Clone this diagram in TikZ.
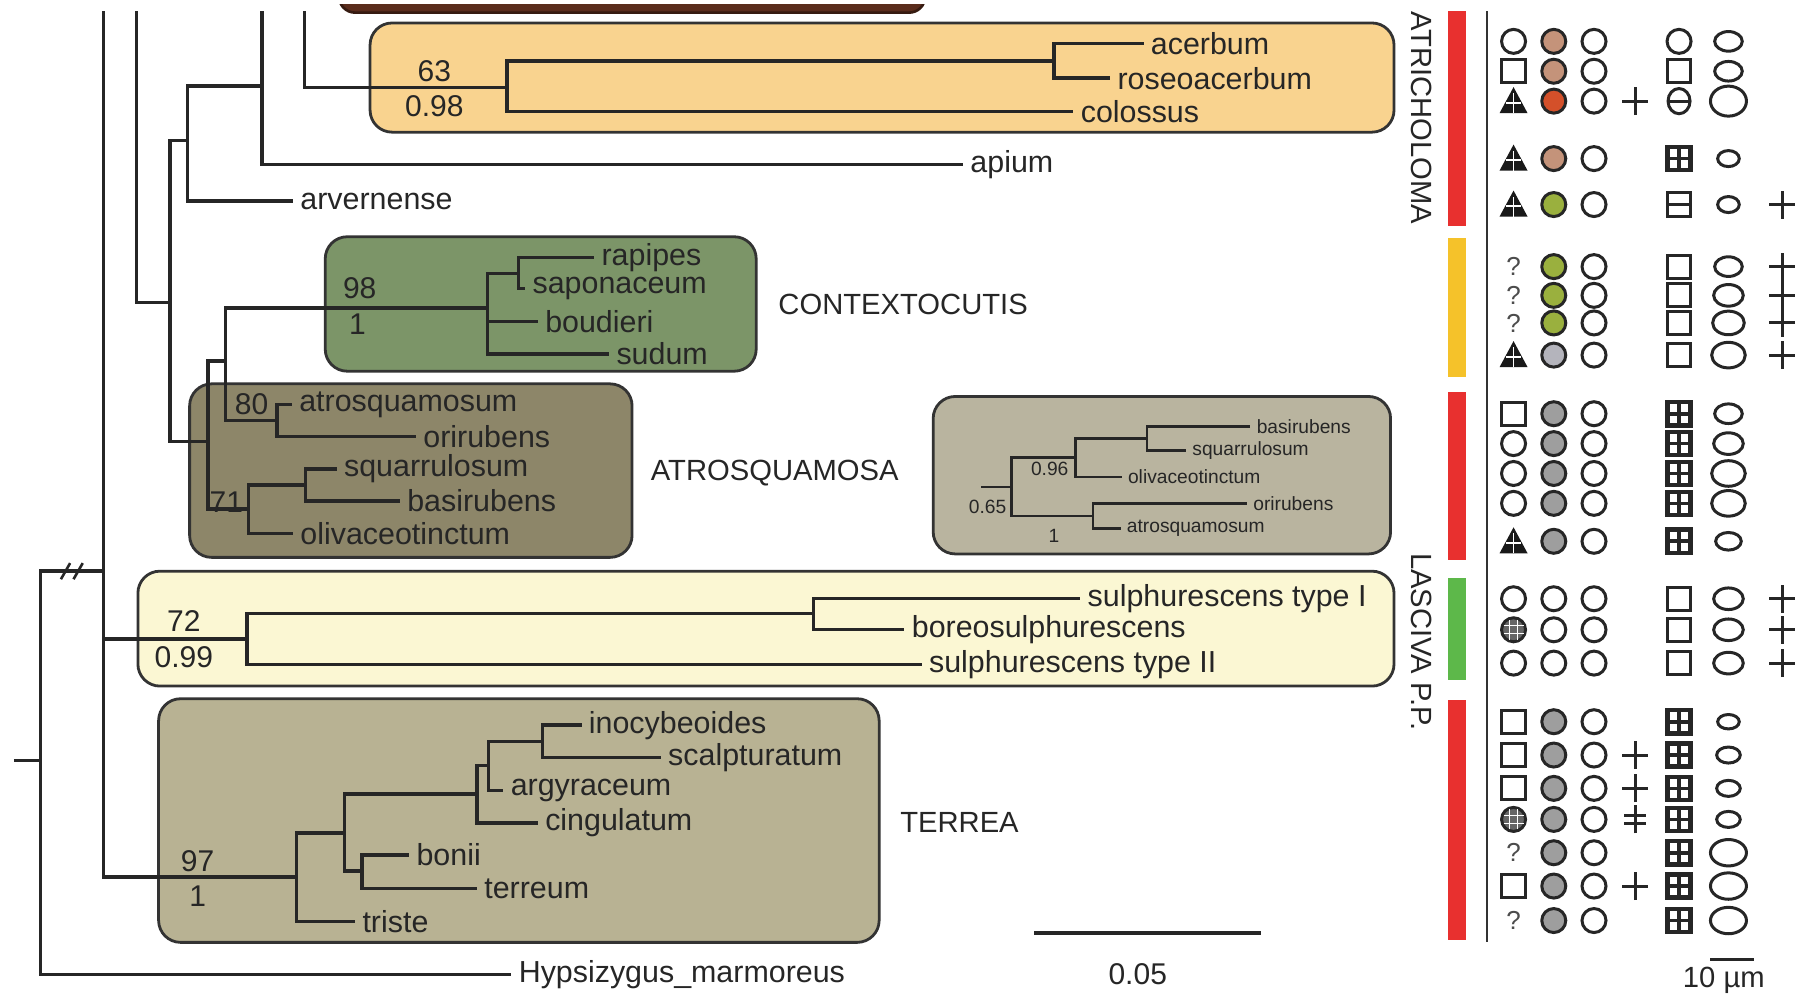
\documentclass[tikz,border=0pt]{standalone}
\usepackage{fontspec}
\setmainfont{Liberation Sans}
\usepackage{tikz}
\definecolor{darkbox}{HTML}{5A2C1C}
\definecolor{boxorange}{HTML}{F9D38F}
\definecolor{boxgreen}{HTML}{7C9568}
\definecolor{boxatro}{HTML}{8D8669}
\definecolor{boxinset}{HTML}{B9B49F}
\definecolor{boxlasc}{HTML}{FBF7D3}
\definecolor{boxterr}{HTML}{B8B293}
\definecolor{barred}{HTML}{E8302F}
\definecolor{baryellow}{HTML}{F5C22A}
\definecolor{bargreen}{HTML}{5DB84A}
\definecolor{dotpink}{HTML}{C4937A}
\definecolor{dotrust}{HTML}{D4502A}
\definecolor{dotolive}{HTML}{9AB03E}
\definecolor{dotlgrey}{HTML}{B4B4BC}
\definecolor{dotgrey}{HTML}{9E9E9E}

\begin{document}
\begin{tikzpicture}[x=0.5745pt,y=-0.5745pt,
  branch/.style={line width=1.7pt,draw=black!85},
  thin branch/.style={line width=1.2pt,draw=black!85},
  clade/.style={draw=black!80,line width=1.4pt,rounded corners=11pt},
  taxon/.style={anchor=west,inner sep=3.5pt,text=black!85,font=\fontsize{15.2}{16}\selectfont},
  small taxon/.style={anchor=west,inner sep=3pt,text=black!85,font=\fontsize{9.6}{10}\selectfont},
  supp/.style={inner sep=0pt,text=black!85,font=\fontsize{15}{16}\selectfont},
  small supp/.style={inner sep=0pt,text=black!85,font=\fontsize{9.6}{10}\selectfont},
  grp/.style={inner sep=0pt,text=black!85,font=\fontsize{14.6}{15}\selectfont},
  qmark/.style={inner sep=0pt,text=black!70,font=\fontsize{13}{14}\selectfont},
  sym/.style={line width=1.5pt,draw=black!85},
  pics/oc/.style={code={\draw[sym,fill=white] (0,0) circle (6pt);}},
  pics/fc/.style={code={\draw[sym,fill=#1] (0,0) circle (6pt);}},
  pics/os/.style={code={\draw[sym] (-5.8pt,-5.8pt) rectangle (5.8pt,5.8pt);}},
  pics/gs/.style={code={\draw[sym,line width=2.2pt] (-5.8pt,-5.8pt) rectangle (5.8pt,5.8pt);
    \draw[sym,line width=1.8pt] (-5.8pt,0) -- (5.8pt,0) (0,-5.8pt) -- (0,5.8pt);}},
  pics/hs/.style={code={\draw[sym] (-5.6pt,-5.8pt) rectangle (5.6pt,5.8pt);
    \draw[sym] (-5.6pt,0) -- (5.6pt,0);}},
  pics/hc/.style={code={\draw[sym] (0,0) ellipse [x radius=5.5pt,y radius=6.3pt];
    \draw[sym] (-5.5pt,0) -- (5.5pt,0);}},
  pics/tr/.style={code={\fill[black!90] (-7pt,-6pt) -- (7pt,-6pt) -- (0,7pt) -- cycle;
    \draw[white,line width=0.8pt] (0,-6pt) -- (0,4pt) (-3.6pt,-0.8pt) -- (3.6pt,-0.8pt);}},
  pics/xc/.style={code={\draw[sym,fill=black!60] (0,0) circle (6pt);
    \draw[white,line width=0.7pt] (-5pt,-2pt) -- (5pt,-2pt) (-5pt,2pt) -- (5pt,2pt) (-2pt,-5pt) -- (-2pt,5pt) (2pt,-5pt) -- (2pt,5pt);}},
  pics/pl/.style={code={\draw[sym] (-6.5pt,0) -- (6.5pt,0) (0,-7pt) -- (0,7pt);}},
  pics/dp/.style={code={\draw[sym] (-5.5pt,2pt) -- (5.5pt,2pt) (-5.5pt,-2pt) -- (5.5pt,-2pt) (0,-7pt) -- (0,7pt);}},
  pics/el/.style 2 args={code={\draw[sym] (0,0) ellipse [x radius=#1,y radius=#2];}}]
\useasboundingbox (0,0) rectangle (1568,866);
\begin{scope}
\clip (0,4) rectangle (1568,866);
\draw[darkbox!60!black,fill=darkbox,line width=1.3pt,rounded corners=8pt] (295,-40) rectangle (805,11);
\end{scope}
\draw[clade,fill=boxorange] (322,20) rectangle (1213,115);
\draw[clade,fill=boxgreen] (283,206) rectangle (658,323);
\draw[clade,fill=boxatro] (165,334) rectangle (550,485);
\draw[clade,fill=boxinset] (812,345) rectangle (1210,482);
\draw[clade,fill=boxlasc] (120,497) rectangle (1213,597);
\draw[clade,fill=boxterr] (138,608) rectangle (765,820);
\coordinate (cutA) at (90,10);
\coordinate (cutB) at (119,10);
\coordinate (cutC) at (228,10);
\coordinate (cutD) at (265,10);
\coordinate (stub) at (12,662);
\coordinate (nRoot) at (35,662);
\coordinate (nCore) at (90,497);
\coordinate (nC) at (148,263);
\coordinate (nD) at (163,122);
\coordinate (nF) at (228,75);
\coordinate (nAC) at (441,76);
\coordinate (nAR) at (917,53);
\coordinate (nE) at (181,384);
\coordinate (nG) at (196,314);
\coordinate (nCX) at (424,268);
\coordinate (nRS) at (451,238);
\coordinate (n80) at (241,366);
\coordinate (n71) at (216,443);
\coordinate (nSB) at (266,422);
\coordinate (nLAS) at (215,556);
\coordinate (nTB) at (708,534);
\coordinate (nTER) at (258,763);
\coordinate (nUP) at (300,725);
\coordinate (nIAC) at (415,691);
\coordinate (nIA) at (425,666);
\coordinate (nIS) at (472,645);
\coordinate (nBT) at (315,758);
\node[taxon] (acerbum) at (995,38) {acerbum};
\node[taxon] (roseoacerbum) at (966,68) {roseoacerbum};
\node[taxon] (colossus) at (934,97) {colossus};
\node[taxon] (apium) at (838,143) {apium};
\node[taxon] (arvernense) at (255,175) {arvernense};
\node[taxon] (rapipes) at (517,224) {rapipes};
\node[taxon] (saponaceum) at (457,251) {saponaceum};
\node[taxon] (boudieri) at (468,280) {boudieri};
\node[taxon] (sudum) at (530,308) {sudum};
\node[taxon] (atrosquamosum) at (254,352) {atrosquamosum};
\node[taxon] (orirubens) at (362,380) {orirubens};
\node[taxon] (squarrulosum) at (293,408) {squarrulosum};
\node[taxon] (basirubens) at (348,436) {basirubens};
\node[taxon] (olivaceotinctum) at (255,464) {olivaceotinctum};
\node[taxon] (sulphI) at (940,521) {sulphurescens type I};
\node[taxon] (boreo) at (787,548) {boreosulphurescens};
\node[taxon] (sulphII) at (802,578) {sulphurescens type II};
\node[taxon] (inocybeoides) at (506,631) {inocybeoides};
\node[taxon] (scalpturatum) at (575,659) {scalpturatum};
\node[taxon] (argyraceum) at (438,688) {argyraceum};
\node[taxon] (cingulatum) at (468,716) {cingulatum};
\node[taxon] (bonii) at (356,744) {bonii};
\node[taxon] (terreum) at (415,773) {terreum};
\node[taxon] (triste) at (309,802) {triste};
\node[taxon] (hypsizygus) at (445,848) {Hypsizygus\_marmoreus};
\draw[branch] (stub) -- (nRoot);
\draw[branch] (nRoot) |- (nCore);
\draw[branch] (nRoot) |- (hypsizygus.west);
\draw[branch,line width=1.3pt] (53,504) -- (61,490) (64,504) -- (72,490);
\draw[branch] (cutA) |- (nLAS);
\draw[branch] (cutA) |- (nTER);
\draw[branch] (cutB) |- (nC);
\draw[branch] (nC) |- (nD);
\draw[branch] (nC) |- (nE);
\draw[branch] (nD) |- (nF);
\draw[branch] (nD) |- (arvernense.west);
\draw[branch] (cutC) |- (apium.west);
\draw[branch] (cutD) |- (nAC);
\draw[branch] (nAC) |- (nAR);
\draw[branch] (nAC) |- (colossus.west);
\draw[branch] (nAR) |- (acerbum.west);
\draw[branch] (nAR) |- (roseoacerbum.west);
\draw[branch] (nE) |- (nG);
\draw[branch] (nE) |- (n71);
\draw[branch] (nG) |- (nCX);
\draw[branch] (nG) |- (n80);
\draw[branch] (nCX) |- (nRS);
\draw[branch] (nCX) |- (boudieri.west);
\draw[branch] (nCX) |- (sudum.west);
\draw[branch] (nRS) |- (rapipes.west);
\draw[branch] (nRS) |- (saponaceum.west);
\draw[branch] (n80) |- (atrosquamosum.west);
\draw[branch] (n80) |- (orirubens.west);
\draw[branch] (n71) |- (nSB);
\draw[branch] (n71) |- (olivaceotinctum.west);
\draw[branch] (nSB) |- (squarrulosum.west);
\draw[branch] (nSB) |- (basirubens.west);
\draw[branch] (nLAS) |- (nTB);
\draw[branch] (nLAS) |- (sulphII.west);
\draw[branch] (nTB) |- (sulphI.west);
\draw[branch] (nTB) |- (boreo.west);
\draw[branch] (nTER) |- (nUP);
\draw[branch] (nTER) |- (triste.west);
\draw[branch] (nUP) |- (nIAC);
\draw[branch] (nUP) |- (nBT);
\draw[branch] (nIAC) |- (nIA);
\draw[branch] (nIAC) |- (cingulatum.west);
\draw[branch] (nIA) |- (nIS);
\draw[branch] (nIA) |- (argyraceum.west);
\draw[branch] (nIS) |- (inocybeoides.west);
\draw[branch] (nIS) |- (scalpturatum.west);
\draw[branch] (nBT) |- (bonii.west);
\draw[branch] (nBT) |- (terreum.west);
\node[supp] (s63) at (378,62) {63};
\node[supp] (p098) at (378,92) {0.98};
\node[supp] (s98) at (313,251) {98};
\node[supp] (p1a) at (311,282) {1};
\node[supp] (s80) at (219,352) {80};
\node[supp] (s71) at (197,437) {71};
\node[supp] (s72) at (160,540) {72};
\node[supp] (p099) at (160,572) {0.99};
\node[supp] (s97) at (172,749) {97};
\node[supp] (p1b) at (172,780) {1};
\node[grp,anchor=west] (contexto) at (677,265) {CONTEXTOCUTIS};
\node[grp,anchor=west] (atrosq) at (566,412) {ATROSQUAMOSA};
\node[grp,anchor=west] (terrea) at (783,716) {TERREA};
\coordinate (iStub) at (854,423.5);
\coordinate (iN4) at (880,423.5);
\coordinate (iN2) at (936,398);
\coordinate (iN1) at (998,381.5);
\coordinate (iN3) at (951,449);
\node[small taxon] (iBasi) at (1088,371) {basirubens};
\node[small taxon] (iSqua) at (1032,392) {squarrulosum};
\node[small taxon] (iOliv) at (976,415) {olivaceotinctum};
\node[small taxon] (iOri) at (1085,438) {orirubens};
\node[small taxon] (iAtro) at (975,460) {atrosquamosum};
\draw[thin branch] (iStub) -- (iN4);
\draw[thin branch] (iN4) |- (iN2);
\draw[thin branch] (iN4) |- (iN3);
\draw[thin branch] (iN2) |- (iN1);
\draw[thin branch] (iN2) |- (iOliv.west);
\draw[thin branch] (iN1) |- (iBasi.west);
\draw[thin branch] (iN1) |- (iSqua.west);
\draw[thin branch] (iN3) |- (iOri.west);
\draw[thin branch] (iN3) |- (iAtro.west);
\node[small supp,anchor=east] (p096) at (930,408) {0.96};
\node[small supp,anchor=east] (p065) at (876,441) {0.65};
\node[small supp] (p1c) at (917,466) {1};
\coordinate (sbL) at (900,812);
\coordinate (sbR) at (1097,812);
\draw[branch] (sbL) -- (sbR);
\node[supp] (sblab) at (990,848) {0.05};
\node[grp,rotate=-90,anchor=west] (atrich) at (1237,10) {ATRICHOLOMA};
\node[grp,rotate=-90,anchor=west] (lasciva) at (1237,481) {LASCIVA P.P.};
\fill[barred] (1260,10) rectangle (1276,197);
\fill[baryellow] (1260,207) rectangle (1276,328);
\fill[barred] (1260,341) rectangle (1276,487);
\fill[bargreen] (1260,503) rectangle (1276,592);
\fill[barred] (1260,609) rectangle (1276,818);
\coordinate (tabT) at (1294,10);
\coordinate (tabB) at (1294,820);
\draw[line width=1.3pt,black!80] (tabT) -- (tabB);
\pic at (1317,36) {oc}; \pic at (1352,36) {fc=dotpink}; \pic at (1387,36) {oc}; \pic at (1461,36) {oc}; \pic at (1504,36) {el={6.9pt}{4.9pt}};
\pic at (1317,62) {os}; \pic at (1352,62) {fc=dotpink}; \pic at (1387,62) {oc}; \pic at (1461,62) {os}; \pic at (1504,62) {el={6.9pt}{4.9pt}};
\pic at (1317,88) {tr}; \pic at (1352,88) {fc=dotrust}; \pic at (1387,88) {oc}; \pic at (1423,88) {pl}; \pic at (1461,88) {hc}; \pic at (1504,88) {el={9pt}{7.5pt}};
\pic at (1317,138) {tr}; \pic at (1352,138) {fc=dotpink}; \pic at (1387,138) {oc}; \pic at (1461,138) {gs}; \pic at (1504,138) {el={5.4pt}{4pt}};
\pic at (1317,178) {tr}; \pic at (1352,178) {fc=dotolive}; \pic at (1387,178) {oc}; \pic at (1461,178) {hs}; \pic at (1504,178) {el={5.4pt}{4pt}}; \pic at (1551,178) {pl};
\node[qmark] (q6) at (1317,232) {?}; \pic at (1352,232) {fc=dotolive}; \pic at (1387,232) {oc}; \pic at (1461,232) {os}; \pic at (1504,232) {el={6.9pt}{4.9pt}}; \pic at (1551,232) {pl};
\node[qmark] (q7) at (1317,257) {?}; \pic at (1352,257) {fc=dotolive}; \pic at (1387,257) {oc}; \pic at (1461,257) {os}; \pic at (1504,257) {el={7.4pt}{5.4pt}}; \pic at (1551,257) {pl};
\node[qmark] (q8) at (1317,281) {?}; \pic at (1352,281) {fc=dotolive}; \pic at (1387,281) {oc}; \pic at (1461,281) {os}; \pic at (1504,281) {el={7.9pt}{5.9pt}}; \pic at (1551,281) {pl};
\pic at (1317,309) {tr}; \pic at (1352,309) {fc=dotlgrey}; \pic at (1387,309) {oc}; \pic at (1461,309) {os}; \pic at (1504,309) {el={8.4pt}{6.4pt}}; \pic at (1551,309) {pl};
\pic at (1317,360) {os}; \pic at (1352,360) {fc=dotgrey}; \pic at (1387,360) {oc}; \pic at (1461,360) {gs}; \pic at (1504,360) {el={6.9pt}{4.9pt}};
\pic at (1317,386) {oc}; \pic at (1352,386) {fc=dotgrey}; \pic at (1387,386) {oc}; \pic at (1461,386) {gs}; \pic at (1504,386) {el={7.4pt}{5.4pt}};
\pic at (1317,412) {oc}; \pic at (1352,412) {fc=dotgrey}; \pic at (1387,412) {oc}; \pic at (1461,412) {gs}; \pic at (1504,412) {el={8.4pt}{6.4pt}};
\pic at (1317,438) {oc}; \pic at (1352,438) {fc=dotgrey}; \pic at (1387,438) {oc}; \pic at (1461,438) {gs}; \pic at (1504,438) {el={8.4pt}{6.4pt}};
\pic at (1317,471) {tr}; \pic at (1352,471) {fc=dotgrey}; \pic at (1387,471) {oc}; \pic at (1461,471) {gs}; \pic at (1504,471) {el={6.4pt}{4.4pt}};
\pic at (1317,521) {oc}; \pic at (1352,521) {oc}; \pic at (1387,521) {oc}; \pic at (1461,521) {os}; \pic at (1504,521) {el={7.4pt}{5.4pt}}; \pic at (1551,521) {pl};
\pic at (1317,548) {xc}; \pic at (1352,548) {oc}; \pic at (1387,548) {oc}; \pic at (1461,548) {os}; \pic at (1504,548) {el={7.4pt}{5.4pt}}; \pic at (1551,548) {pl};
\pic at (1317,577) {oc}; \pic at (1352,577) {oc}; \pic at (1387,577) {oc}; \pic at (1461,577) {os}; \pic at (1504,577) {el={7.4pt}{5.4pt}}; \pic at (1551,577) {pl};
\pic at (1317,628) {os}; \pic at (1352,628) {fc=dotgrey}; \pic at (1387,628) {oc}; \pic at (1461,628) {gs}; \pic at (1504,628) {el={5.4pt}{3.6pt}};
\pic at (1317,657) {os}; \pic at (1352,657) {fc=dotgrey}; \pic at (1387,657) {oc}; \pic at (1423,657) {pl}; \pic at (1461,657) {gs}; \pic at (1504,657) {el={5.9pt}{4pt}};
\pic at (1317,686) {os}; \pic at (1352,686) {fc=dotgrey}; \pic at (1387,686) {oc}; \pic at (1423,686) {pl}; \pic at (1461,686) {gs}; \pic at (1504,686) {el={5.9pt}{4pt}};
\pic at (1317,713) {xc}; \pic at (1352,713) {fc=dotgrey}; \pic at (1387,713) {oc}; \pic at (1423,713) {dp}; \pic at (1461,713) {gs}; \pic at (1504,713) {el={5.9pt}{4pt}};
\node[qmark] (q22) at (1317,742) {?}; \pic at (1352,742) {fc=dotgrey}; \pic at (1387,742) {oc}; \pic at (1461,742) {gs}; \pic at (1504,742) {el={9pt}{6.6pt}};
\pic at (1317,771) {os}; \pic at (1352,771) {fc=dotgrey}; \pic at (1387,771) {oc}; \pic at (1423,771) {pl}; \pic at (1461,771) {gs}; \pic at (1504,771) {el={9pt}{6.6pt}};
\node[qmark] (q24) at (1317,801) {?}; \pic at (1352,801) {fc=dotgrey}; \pic at (1387,801) {oc}; \pic at (1461,801) {gs}; \pic at (1504,801) {el={9pt}{6.6pt}};
\coordinate (umL) at (1488,835);
\coordinate (umR) at (1526,835);
\draw[line width=1.4pt,black!85] (umL) -- (umR);
\node[grp] (umlab) at (1500,853) {10 µm};
\end{tikzpicture}
\end{document}
